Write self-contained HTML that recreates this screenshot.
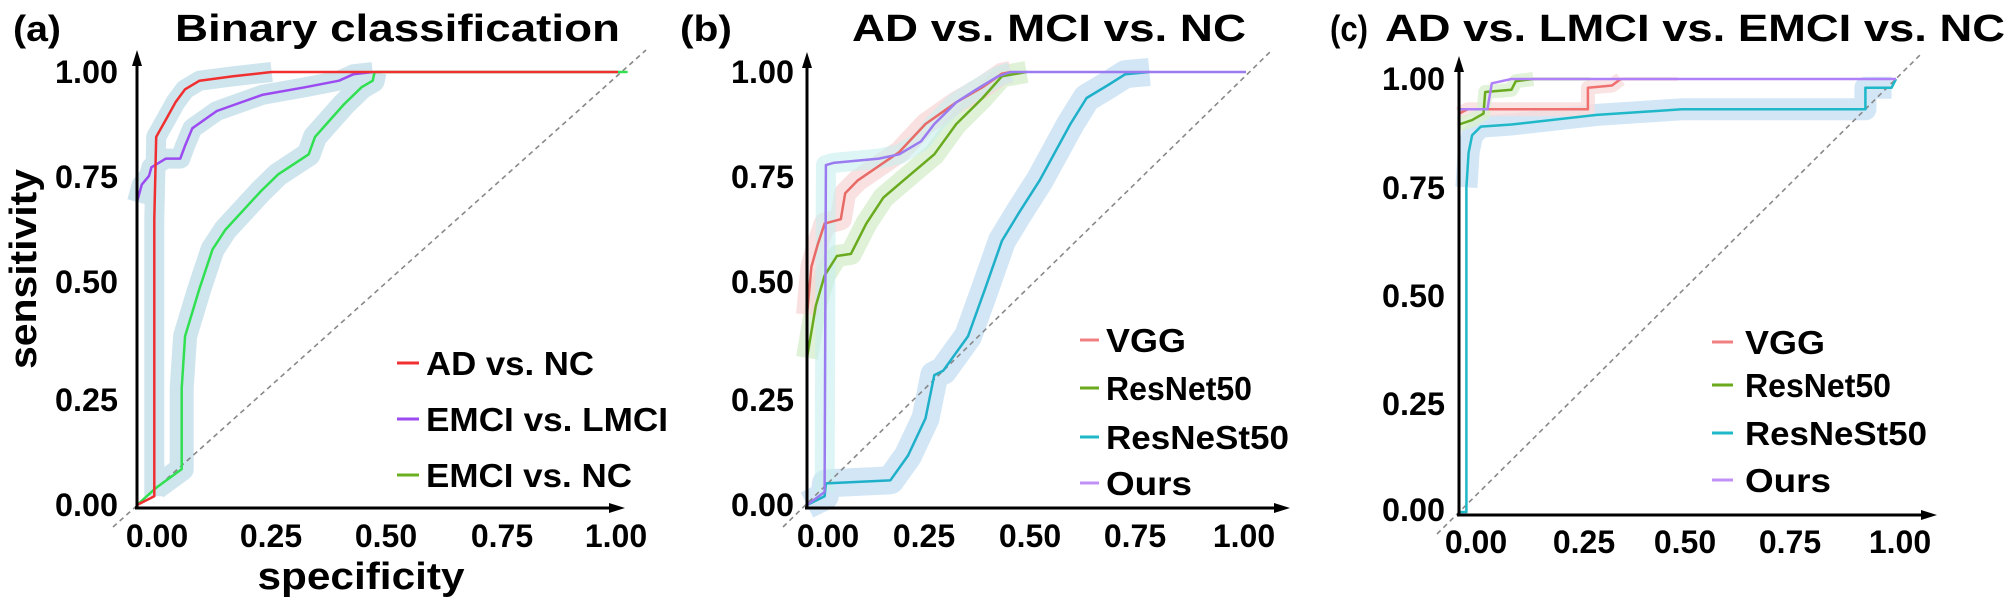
<!DOCTYPE html>
<html><head><meta charset="utf-8"><style>
html,body{margin:0;padding:0;background:#fff;}
svg{display:block;}
text{font-family:"Liberation Sans",Arial,sans-serif;font-weight:bold;fill:#000;}
</style></head><body>
<svg id="s" width="2009" height="602" viewBox="0 0 2009 602" xmlns="http://www.w3.org/2000/svg">
<rect width="2009" height="602" fill="#fff"/>
<g id="bands"></g>
<g id="diag" stroke="#888" stroke-width="1.6" stroke-dasharray="5,4" fill="none">
<line x1="113" y1="527" x2="646" y2="50"/>
<line x1="783" y1="527" x2="1270" y2="52"/>
<line x1="1437" y1="534" x2="1920" y2="55"/>
</g>
<g id="lines"></g>
<g stroke="#000" stroke-width="3" fill="none">
<line x1="137" y1="509" x2="137" y2="60"/><line x1="135" y1="508" x2="612" y2="508"/>
<line x1="807" y1="509" x2="807" y2="62"/><line x1="805" y1="508" x2="1276" y2="508"/>
<line x1="1459" y1="516" x2="1459" y2="66"/><line x1="1457" y1="515" x2="1923" y2="515"/>
</g>
<g fill="#000">
<polygon points="137,50 132,66 142,66"/><polygon points="625,508 609,503 609,513"/>
<polygon points="807,52 802,68 812,68"/><polygon points="1290,508 1274,503 1274,513"/>
<polygon points="1459,56 1454,72 1464,72"/><polygon points="1937,515 1921,510 1921,520"/>
</g>
<!-- titles -->
<text x="13" y="41" font-size="36" textLength="48" lengthAdjust="spacingAndGlyphs">(a)</text>
<text x="175" y="41" font-size="38" textLength="445" lengthAdjust="spacingAndGlyphs">Binary classification</text>
<text x="680" y="41" font-size="36" textLength="52" lengthAdjust="spacingAndGlyphs">(b)</text>
<text x="852" y="41" font-size="38" textLength="394" lengthAdjust="spacingAndGlyphs">AD vs. MCI vs. NC</text>
<text x="1330" y="41" font-size="36" textLength="38" lengthAdjust="spacingAndGlyphs">(c)</text>
<text x="1385" y="41" font-size="38" textLength="620" lengthAdjust="spacingAndGlyphs">AD vs. LMCI vs. EMCI vs. NC</text>
<!-- y ticks -->
<g font-size="32" text-anchor="end">
<text x="118" y="83" textLength="63" lengthAdjust="spacingAndGlyphs">1.00</text>
<text x="118" y="188" textLength="63" lengthAdjust="spacingAndGlyphs">0.75</text>
<text x="118" y="293" textLength="63" lengthAdjust="spacingAndGlyphs">0.50</text>
<text x="118" y="411" textLength="63" lengthAdjust="spacingAndGlyphs">0.25</text>
<text x="118" y="516" textLength="63" lengthAdjust="spacingAndGlyphs">0.00</text>
<text x="794" y="83" textLength="63" lengthAdjust="spacingAndGlyphs">1.00</text>
<text x="794" y="188" textLength="63" lengthAdjust="spacingAndGlyphs">0.75</text>
<text x="794" y="293" textLength="63" lengthAdjust="spacingAndGlyphs">0.50</text>
<text x="794" y="411" textLength="63" lengthAdjust="spacingAndGlyphs">0.25</text>
<text x="794" y="516" textLength="63" lengthAdjust="spacingAndGlyphs">0.00</text>
<text x="1445" y="90" textLength="63" lengthAdjust="spacingAndGlyphs">1.00</text>
<text x="1445" y="199" textLength="63" lengthAdjust="spacingAndGlyphs">0.75</text>
<text x="1445" y="307" textLength="63" lengthAdjust="spacingAndGlyphs">0.50</text>
<text x="1445" y="415" textLength="63" lengthAdjust="spacingAndGlyphs">0.25</text>
<text x="1445" y="521" textLength="63" lengthAdjust="spacingAndGlyphs">0.00</text>
</g>
<!-- x ticks -->
<g font-size="32" text-anchor="middle">
<text x="157" y="547">0.00</text><text x="271" y="547">0.25</text><text x="386" y="547">0.50</text><text x="502" y="547">0.75</text><text x="616" y="547">1.00</text>
<text x="828" y="547">0.00</text><text x="924" y="547">0.25</text><text x="1030" y="547">0.50</text><text x="1135" y="547">0.75</text><text x="1244" y="547">1.00</text>
<text x="1476" y="553">0.00</text><text x="1584" y="553">0.25</text><text x="1685" y="553">0.50</text><text x="1790" y="553">0.75</text><text x="1900" y="553">1.00</text>
</g>
<text x="361" y="589" font-size="38" text-anchor="middle" textLength="207" lengthAdjust="spacingAndGlyphs">specificity</text>
<text transform="translate(36,269) rotate(-90)" font-size="38" text-anchor="middle" textLength="200" lengthAdjust="spacingAndGlyphs">sensitivity</text>
<!-- legends -->
<g stroke-width="3">
<line x1="397" y1="363" x2="419" y2="363" stroke="#f03030"/>
<line x1="397" y1="419" x2="419" y2="419" stroke="#9b4bf0"/>
<line x1="397" y1="475" x2="419" y2="475" stroke="#6ab020"/>
<line x1="1080" y1="340" x2="1099" y2="340" stroke="#f08080"/>
<line x1="1080" y1="388" x2="1099" y2="388" stroke="#6aaa1e"/>
<line x1="1080" y1="437" x2="1099" y2="437" stroke="#1eb8c8"/>
<line x1="1080" y1="483" x2="1099" y2="483" stroke="#c090f8"/>
<line x1="1712" y1="342" x2="1733" y2="342" stroke="#f08080"/>
<line x1="1712" y1="385" x2="1733" y2="385" stroke="#6aaa1e"/>
<line x1="1712" y1="433" x2="1733" y2="433" stroke="#1eb8c8"/>
<line x1="1712" y1="480" x2="1733" y2="480" stroke="#c090f8"/>
</g>
<g font-size="33">
<text x="426" y="375" textLength="168" lengthAdjust="spacingAndGlyphs">AD vs. NC</text>
<text x="426" y="431" textLength="242" lengthAdjust="spacingAndGlyphs">EMCI vs. LMCI</text>
<text x="426" y="487" textLength="206" lengthAdjust="spacingAndGlyphs">EMCI vs. NC</text>
<text x="1106" y="352" textLength="80" lengthAdjust="spacingAndGlyphs">VGG</text>
<text x="1106" y="400" textLength="146" lengthAdjust="spacingAndGlyphs">ResNet50</text>
<text x="1106" y="449" textLength="183" lengthAdjust="spacingAndGlyphs">ResNeSt50</text>
<text x="1106" y="495" textLength="86" lengthAdjust="spacingAndGlyphs">Ours</text>
<text x="1745" y="354" textLength="80" lengthAdjust="spacingAndGlyphs">VGG</text>
<text x="1745" y="397" textLength="146" lengthAdjust="spacingAndGlyphs">ResNet50</text>
<text x="1745" y="445" textLength="182" lengthAdjust="spacingAndGlyphs">ResNeSt50</text>
<text x="1745" y="492" textLength="86" lengthAdjust="spacingAndGlyphs">Ours</text>
</g>
</svg>
<script>
(function(){
var NS="http://www.w3.org/2000/svg";
function mk(x0,w,y0,h){return function(p){return (x0+w*p[0]).toFixed(1)+","+(y0-h*p[1]).toFixed(1);};}
var A=mk(137,481,505,433),B=mk(807,439,505,433),C=mk(1459,437,512,433);
function add(g,f,pts,color,w,op){var e=document.createElementNS(NS,"polyline");e.setAttribute("points",pts.map(f).join(" "));e.setAttribute("fill","none");e.setAttribute("stroke",color);e.setAttribute("stroke-width",w);e.setAttribute("stroke-linejoin","round");if(op)e.setAttribute("stroke-opacity",op);document.getElementById(g).appendChild(e);}
var aR=[[0,0],[0.036,0.02],[0.036,0.66],[0.04,0.85],[0.06,0.89],[0.08,0.93],[0.1,0.96],[0.13,0.98],[0.2,0.99],[0.28,1],[1,1]];
var aP=[[0,0],[0,0.7],[0.01,0.74],[0.025,0.76],[0.03,0.78],[0.06,0.8],[0.09,0.8],[0.1,0.83],[0.115,0.87],[0.166,0.91],[0.26,0.947],[0.35,0.965],[0.42,0.98],[0.45,0.995],[0.49,1]];
var aG=[[0,0],[0.04,0.04],[0.093,0.083],[0.093,0.27],[0.1,0.39],[0.13,0.5],[0.157,0.59],[0.184,0.636],[0.257,0.724],[0.293,0.763],[0.357,0.81],[0.37,0.85],[0.43,0.925],[0.467,0.965],[0.49,0.98],[0.494,1],[1.02,1]];
var bP=[[0,0],[0.04,0.03],[0.043,0.785],[0.06,0.79],[0.164,0.8],[0.21,0.81],[0.26,0.84],[0.29,0.88],[0.34,0.93],[0.386,0.96],[0.435,0.99],[0.464,1],[1,1]];
var bR=[[0,0.44],[0.01,0.55],[0.024,0.6],[0.04,0.65],[0.077,0.66],[0.087,0.72],[0.116,0.75],[0.174,0.79],[0.21,0.815],[0.27,0.88],[0.34,0.93],[0.4,0.965],[0.444,0.996],[0.464,1]];
var bG=[[0,0],[0,0.34],[0.02,0.46],[0.04,0.53],[0.068,0.575],[0.1,0.58],[0.135,0.65],[0.174,0.71],[0.22,0.75],[0.29,0.81],[0.34,0.88],[0.4,0.94],[0.444,0.99],[0.5,1]];
var bC=[[0,0],[0.04,0.02],[0.043,0.05],[0.19,0.057],[0.23,0.114],[0.27,0.2],[0.29,0.3],[0.31,0.31],[0.367,0.39],[0.406,0.5],[0.444,0.61],[0.483,0.675],[0.53,0.75],[0.6,0.88],[0.637,0.94],[0.686,0.97],[0.725,0.995],[0.78,1]];
var cC=[[0,0],[0.017,0],[0.017,0.75],[0.022,0.83],[0.03,0.87],[0.05,0.89],[0.12,0.895],[0.315,0.917],[0.51,0.93],[0.93,0.93],[0.93,0.98],[0.99,0.98],[1,1]];
var cR=[[0,0.92],[0.02,0.93],[0.295,0.93],[0.295,0.98],[0.35,0.985],[0.37,1],[0.5,1]];
var cG=[[0,0.895],[0.03,0.905],[0.056,0.92],[0.06,0.97],[0.12,0.975],[0.13,0.995],[0.17,1],[0.3,1]];
var cPu=[[0,0.93],[0.065,0.93],[0.075,0.99],[0.12,1],[1,1]];
// bands
add("bands",A,aR.slice(1,10),"#cfe5ee",20);
add("bands",A,aP.slice(1,15),"#cfe5ee",20);
add("bands",A,aG.slice(1,16),"#cfe5ee",24);
add("bands",B,bC,"#d2e6f6",28);
add("bands",B,bG.slice(1,14),"#d9f0d0",22,0.85);
add("bands",B,bR,"#f8d4d4",22,0.7);
add("bands",B,bP.slice(1,12),"#c6eeee",20,0.6);
add("bands",C,cC.slice(2,12),"#d2e6f6",22);
add("bands",C,cR.slice(0,6),"#f8dcdc",14,0.8);
add("bands",C,cG.slice(0,7),"#d9f0d0",14,0.8);
// lines
add("lines",A,aG,"#30e050",2.5);
add("lines",A,aP,"#9b4bf0",2.5);
add("lines",A,aR,"#f03030",2.5);
add("lines",B,bC,"#1eb0c8",2.5);
add("lines",B,bG,"#6aaa1e",2.5);
add("lines",B,bR,"#e86a66",2.5);
add("lines",B,bP,"#9b7bf0",2.5);
add("lines",C,cC,"#1eb8c8",2.5);
add("lines",C,cR,"#f07070",2.5);
add("lines",C,cG,"#6aaa1e",2.5);
add("lines",C,cPu,"#b080f8",2.5);
})();
</script>
</body></html>
